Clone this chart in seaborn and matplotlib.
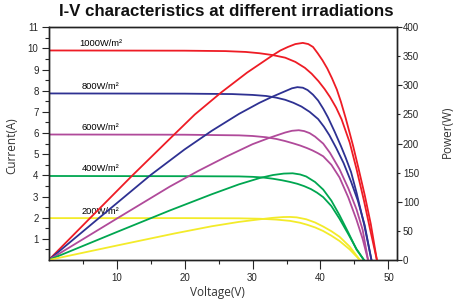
import pandas as pd
import seaborn as sns
import matplotlib.pyplot as plt
from matplotlib.ticker import FixedLocator, FormatStrFormatter

# Irradiance levels and their line colours
levels = ['1000W/m²', '800W/m²', '600W/m²', '400W/m²', '200W/m²']
colors = ['#EE1C25', '#2E3192', '#B04A9A', '#00A650', '#F3EB2A']

# I-V curves: voltage (V) -> current (A)
iv_v_1000 = [0, 20, 26, 29, 31, 33, 34.8, 36.3, 37.7, 38.7, 39.7, 40.6, 41.4, 42.3, 43.1, 44.3, 45.3, 46.4, 47.3, 48.3]
iv_i_1000 = [9.9, 9.89, 9.87, 9.83, 9.77, 9.68, 9.56, 9.36, 9.08, 8.8, 8.45, 8.08, 7.7, 7.2, 6.65, 5.55, 4.3, 2.8, 1.45, 0]
iv_v_800 = [0, 20, 27, 30, 32, 33.5, 34.8, 36.0, 37.2, 38.4, 39.65, 40.5, 41.3, 42.3, 43.4, 44.5, 45.5, 46.5, 47.5]
iv_i_800 = [7.87, 7.86, 7.84, 7.8, 7.75, 7.67, 7.57, 7.43, 7.25, 7.0, 6.66, 6.3, 5.9, 5.3, 4.58, 3.7, 2.8, 1.65, 0]
iv_v_600 = [0, 20, 28, 30, 32, 33.5, 34.8, 36, 37, 38, 38.8, 39.6, 40.4, 41.6, 42.8, 44.1, 45.3, 46.2, 47.0]
iv_i_600 = [5.93, 5.92, 5.89, 5.86, 5.8, 5.72, 5.62, 5.51, 5.41, 5.29, 5.18, 5.05, 4.9, 4.5, 3.9, 2.95, 1.9, 1.0, 0]
iv_v_400 = [0, 20, 28, 30, 31.5, 33, 34.3, 35.5, 36.6, 37.6, 38.6, 39.5, 40.4, 41.6, 42.8, 44.1, 45.3, 46.4]
iv_i_400 = [3.97, 3.96, 3.95, 3.93, 3.9, 3.84, 3.77, 3.69, 3.6, 3.49, 3.35, 3.18, 2.97, 2.55, 1.95, 1.22, 0.52, 0]
iv_v_200 = [0, 20, 28, 31.1, 33.5, 35.5, 37.0, 38.0, 39.2, 40.4, 41.6, 42.8, 44.3, 45.8]
iv_i_200 = [1.98, 1.98, 1.97, 1.95, 1.91, 1.85, 1.76, 1.67, 1.54, 1.37, 1.15, 0.9, 0.5, 0]

# P-V curves: voltage (V) -> power (W)
pv_v_1000 = [0, 6, 12.2, 17.8, 21.5, 25.4, 29.2, 33.0, 34.1, 35.2, 36.3, 37.4, 38.2, 38.9, 39.6, 40.3, 41.0, 41.7,
             42.4, 43.0, 43.7, 44.3, 44.8, 45.6, 46.5, 47.4, 48.3]
pv_p_1000 = [0, 71, 144, 208, 250, 288, 322, 352, 360, 366, 371, 373, 371, 366, 355, 343, 329, 312,
             293, 272, 244, 218, 196, 157, 112, 62, 0]
pv_v_800 = [0, 8, 15, 20, 24, 28, 31, 33, 34.8, 35.8, 36.6, 37.4, 38.1, 38.9, 39.65, 40.4, 41.1, 42.1, 43.0,
            43.7, 44.5, 45.3, 46.4, 47.5]
pv_p_800 = [0, 78, 146, 190, 222, 251, 270, 281, 290, 295, 297, 296, 292, 284, 274, 260, 245, 220, 196,
            176, 151, 116, 62, 0]
pv_v_600 = [0, 10, 17.8, 22, 26.2, 30, 32.5, 34.8, 35.8, 36.8, 37.6, 38.4, 39.2, 40.4, 41.4, 42.8, 44.1, 45.3, 46.2, 47.0]
pv_p_600 = [0, 71, 126, 153, 178, 199, 210, 219, 222, 223, 221.5, 218, 212, 200, 184, 156, 123, 87, 52, 0]
pv_v_400 = [0, 10, 17.8, 24, 28, 31.1, 33, 34.6, 35.9, 37, 37.9, 39.2, 40.4, 41.6, 42.8, 44.1, 45.3, 46.4]
pv_p_400 = [0, 48, 85, 113, 130, 141, 146, 148.5, 149, 147, 143.5, 134, 121, 102, 77, 47, 18, 0]
pv_v_200 = [0, 10, 18.6, 24, 28, 31.1, 33, 34.5, 35.5, 36.5, 37.9, 39.2, 40.4, 41.6, 42.8, 44.3, 45.8]
pv_p_200 = [0, 24.8, 45.8, 58, 65.5, 70, 72.5, 73.8, 74, 73.3, 70, 64.5, 57.5, 49.5, 40, 23, 0]

iv_v = [iv_v_1000, iv_v_800, iv_v_600, iv_v_400, iv_v_200]
iv_i = [iv_i_1000, iv_i_800, iv_i_600, iv_i_400, iv_i_200]
pv_v = [pv_v_1000, pv_v_800, pv_v_600, pv_v_400, pv_v_200]
pv_p = [pv_p_1000, pv_p_800, pv_p_600, pv_p_400, pv_p_200]

iv = pd.concat([pd.DataFrame({'V': v, 'I': i, 'G': g}) for v, i, g in zip(iv_v, iv_i, levels)])
pv = pd.concat([pd.DataFrame({'V': v, 'P': p, 'G': g}) for v, p, g in zip(pv_v, pv_p, levels)])
pal = dict(zip(levels, colors))

sns.set_theme(style='ticks')
plt.rcParams['font.family'] = ['Liberation Sans', 'DejaVu Sans']

fig = plt.figure(figsize=(4.53, 3.02), dpi=100)
ax = fig.add_axes([0.1075, 0.139, 0.768, 0.771])
ax2 = ax.twinx()

sns.lineplot(data=iv, x='V', y='I', hue='G', palette=pal, ax=ax, legend=False,
             estimator=None, sort=False, lw=1.3)
sns.lineplot(data=pv, x='V', y='P', hue='G', palette=pal, ax=ax2, legend=False,
             estimator=None, sort=False, lw=1.3)

ax.set_xlim(0, 51.2)
ax.set_ylim(0, 11)
ax2.set_ylim(0, 400)

# curve labels
for g, i0 in zip(levels, [row[0] for row in iv_i]):
    ax.text(7.6, i0 + 0.12, g, ha='center', va='bottom', fontsize=6.7, color='black')

# ticks
ax.xaxis.set_major_locator(FixedLocator([10, 20, 30, 40, 50]))
ax.xaxis.set_minor_locator(FixedLocator([5, 15, 25, 35, 45]))
ax.yaxis.set_major_locator(FixedLocator(range(1, 12)))
ax.yaxis.set_minor_locator(FixedLocator([k + 0.5 for k in range(0, 11)]))
ax2.yaxis.set_major_locator(FixedLocator([0, 100, 200, 300, 400]))
ax2.yaxis.set_minor_locator(FixedLocator([50, 150, 250, 350]))
ax2.yaxis.set_minor_formatter(FormatStrFormatter('%d'))

ax.tick_params(axis='x', which='major', length=6.5, width=0.8, pad=3, labelsize=7, direction='out')
ax.tick_params(axis='x', which='minor', length=3, width=0.8, direction='out')
ax.tick_params(axis='y', which='major', length=4.8, width=0.8, pad=2.5, labelsize=7, direction='out')
ax.tick_params(axis='y', which='minor', length=2.8, width=0.8, direction='out')
ax2.tick_params(axis='y', which='major', length=3.6, width=0.8, pad=1, labelsize=7, direction='out')
ax2.tick_params(axis='y', which='minor', length=2.2, width=0.8, pad=2.4, labelsize=7, direction='out')

for a in (ax, ax2):
    for s in a.spines.values():
        s.set_visible(True)
        s.set_linewidth(1.0)
        s.set_color('#222222')

lab = dict(fontsize=8.5, color='#333333', family=['Open Sans', 'DejaVu Sans'])
ax.set_xlabel('Voltage(V)', **lab)
ax.set_ylabel('Current(A)', **lab)
ax2.set_ylabel('Power(W)', **lab)
ax.xaxis.set_label_coords(0.485, -0.1405)
ax.xaxis.label.set_va('center')
ax.yaxis.set_label_coords(-0.1055, 0.49)
ax.yaxis.label.set_va('center')
ax2.yaxis.set_label_coords(1.146, 0.55)
ax2.yaxis.label.set_va('center')

fig.text(0.5, 1 - 12 / 302, 'I-V characteristics at different irradiations',
         ha='center', va='center', fontsize=12.2, fontweight='bold', color='#111111')

fig.savefig('out.png', dpi=100)
